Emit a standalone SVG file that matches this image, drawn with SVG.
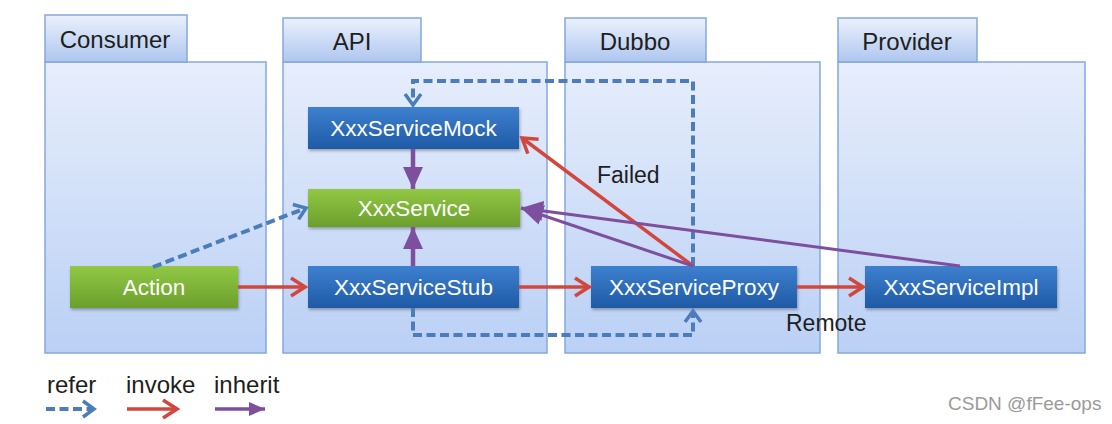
<svg xmlns="http://www.w3.org/2000/svg" width="1112" height="424" viewBox="0 0 1112 424">
  <style>
    .body { fill: url(#bodyGrad); stroke: #86a8dc; stroke-width: 1.5; }
    .tab { fill: url(#tabGrad); stroke: #86a8dc; stroke-width: 1.5; }
    .tabtxt { font-family: "Liberation Sans", Arial, sans-serif; font-size: 24px; fill: #1e1e1e; text-anchor: middle; }
    .nblue { fill: url(#blueGrad); filter: url(#shadow); }
    .ngreen { fill: url(#greenGrad); filter: url(#shadow); }
    .ntxt { font-family: "Liberation Sans", Arial, sans-serif; font-size: 22.5px; fill: #ffffff; text-anchor: middle; }
    .lbl { font-family: "Liberation Sans", Arial, sans-serif; font-size: 23px; fill: #1e1e1e; }
    .leg { font-family: "Liberation Sans", Arial, sans-serif; font-size: 24px; fill: #1e1e1e; }
    .refer { fill: none; stroke: #4a7dba; stroke-width: 4; stroke-dasharray: 9 4.5; marker-end: url(#mRefer); }
    .invoke { fill: none; stroke: #d2473d; stroke-width: 3.5; marker-end: url(#mInvoke); }
    .inherit { fill: none; stroke: #7d4f9e; stroke-width: 3; marker-end: url(#mInherit); }
    .inheritV { fill: none; stroke: #7d4f9e; stroke-width: 4.5; marker-end: url(#mInherit); }
  </style>
  <defs>
    <linearGradient id="bodyGrad" x1="0" y1="0" x2="0" y2="1">
      <stop offset="0" stop-color="#e7eefc"/>
      <stop offset="1" stop-color="#bad0f5"/>
    </linearGradient>
    <linearGradient id="tabGrad" x1="0" y1="0" x2="0" y2="1">
      <stop offset="0" stop-color="#ebf1fc"/>
      <stop offset="1" stop-color="#aec6ef"/>
    </linearGradient>
    <linearGradient id="blueGrad" x1="0" y1="0" x2="0" y2="1">
      <stop offset="0" stop-color="#3d80cf"/>
      <stop offset="1" stop-color="#1f5aa6"/>
    </linearGradient>
    <linearGradient id="greenGrad" x1="0" y1="0" x2="0" y2="1">
      <stop offset="0" stop-color="#92c845"/>
      <stop offset="1" stop-color="#6b9f2c"/>
    </linearGradient>
    <filter id="shadow" x="-10%" y="-20%" width="120%" height="150%">
      <feDropShadow dx="1" dy="2" stdDeviation="1.5" flood-color="#000" flood-opacity="0.3"/>
    </filter>
    <marker id="mInvoke" markerUnits="userSpaceOnUse" markerWidth="20" markerHeight="22" viewBox="0 0 20 22" refX="17" refY="11" orient="auto">
      <path d="M3,2 L17,11 L3,20" fill="none" stroke="#d2473d" stroke-width="3.5"/>
    </marker>
    <marker id="mInherit" markerUnits="userSpaceOnUse" markerWidth="22" markerHeight="22" viewBox="0 0 22 22" refX="22" refY="11" orient="auto">
      <path d="M0,1 L22,11 L0,21 z" fill="#7d4f9e"/>
    </marker>
    <marker id="mInheritSm" markerUnits="userSpaceOnUse" markerWidth="16" markerHeight="16" viewBox="0 0 16 16" refX="16" refY="8" orient="auto">
      <path d="M0,1 L16,8 L0,15 z" fill="#7d4f9e"/>
    </marker>
    <marker id="mRefer" markerUnits="userSpaceOnUse" markerWidth="18" markerHeight="20" viewBox="0 0 18 20" refX="14" refY="10" orient="auto">
      <path d="M3,2 L14,10 L3,18" fill="none" stroke="#4a7dba" stroke-width="3.5"/>
    </marker>
  </defs>

  <rect x="0" y="0" width="1112" height="424" fill="#ffffff"/>

  <!-- Containers -->
  <g id="consumer">
    <rect class="body" x="45" y="62" width="221" height="291"/>
    <rect class="tab" x="45" y="15" width="142" height="47"/>
    <text class="tabtxt" x="115" y="48">Consumer</text>
  </g>
  <g id="api">
    <rect class="body" x="283" y="62" width="264" height="291"/>
    <rect class="tab" x="283" y="18" width="138" height="44"/>
    <text class="tabtxt" x="352" y="50">API</text>
  </g>
  <g id="dubbo">
    <rect class="body" x="565" y="62" width="255" height="291"/>
    <rect class="tab" x="565" y="18" width="141" height="44"/>
    <text class="tabtxt" x="635" y="50">Dubbo</text>
  </g>
  <g id="provider">
    <rect class="body" x="838" y="62" width="247" height="291"/>
    <rect class="tab" x="838" y="18" width="139" height="44"/>
    <text class="tabtxt" x="907" y="50">Provider</text>
  </g>

  <!-- Nodes -->
  <g id="mock">
    <rect class="nblue" x="308" y="107" width="211" height="42"/>
    <text class="ntxt" x="413.5" y="136">XxxServiceMock</text>
  </g>
  <g id="service">
    <rect class="ngreen" x="308" y="189" width="212" height="38"/>
    <text class="ntxt" x="414" y="216">XxxService</text>
  </g>
  <g id="stub">
    <rect class="nblue" x="308" y="266" width="211" height="42"/>
    <text class="ntxt" x="413.5" y="295">XxxServiceStub</text>
  </g>
  <g id="action">
    <rect class="ngreen" x="70" y="266" width="168" height="42"/>
    <text class="ntxt" x="154" y="295">Action</text>
  </g>
  <g id="proxy">
    <rect class="nblue" x="591" y="266" width="206" height="42"/>
    <text class="ntxt" x="694" y="295">XxxServiceProxy</text>
  </g>
  <g id="impl">
    <rect class="nblue" x="865" y="266" width="192" height="42"/>
    <text class="ntxt" x="961" y="295">XxxServiceImpl</text>
  </g>

  <!-- Connectors -->
  <g id="connectors">
    <path class="refer" d="M693,266 V81 H413 V105"/>
    <path class="refer" d="M413,308 V335 H693 V311"/>
    <path class="refer" d="M153,267 L306,208"/>
    <path class="invoke" d="M238,287 H305"/>
    <path class="invoke" d="M519,287 H589"/>
    <path class="invoke" d="M797,287 H863"/>
    <path class="invoke" d="M693,266 L522,138"/>
    <path class="inheritV" d="M413,149 V189"/>
    <path class="inheritV" d="M413,266 V227"/>
    <path class="inherit" d="M693,266 L521,208"/>
    <path class="inherit" d="M960,266 L521,208"/>
  </g>

  <!-- Labels -->
  <g id="labels">
    <text class="lbl" x="597" y="183">Failed</text>
    <text class="lbl" x="786" y="331">Remote</text>
  </g>

  <!-- Legend -->
  <g id="legend">
    <text class="leg" x="47" y="393">refer</text>
    <text class="leg" x="126" y="393">invoke</text>
    <text class="leg" x="214" y="393">inherit</text>
    <path class="refer" d="M46,409 H94"/>
    <path class="invoke" d="M127,409 H177"/>
    <path d="M215,409 H265" fill="none" stroke="#7d4f9e" stroke-width="3.5" marker-end="url(#mInheritSm)"/>
  </g>

  <text x="948" y="410" font-family="'Liberation Sans', Arial, sans-serif" font-size="19" fill="#9a9a9a">CSDN @fFee-ops</text>
</svg>
